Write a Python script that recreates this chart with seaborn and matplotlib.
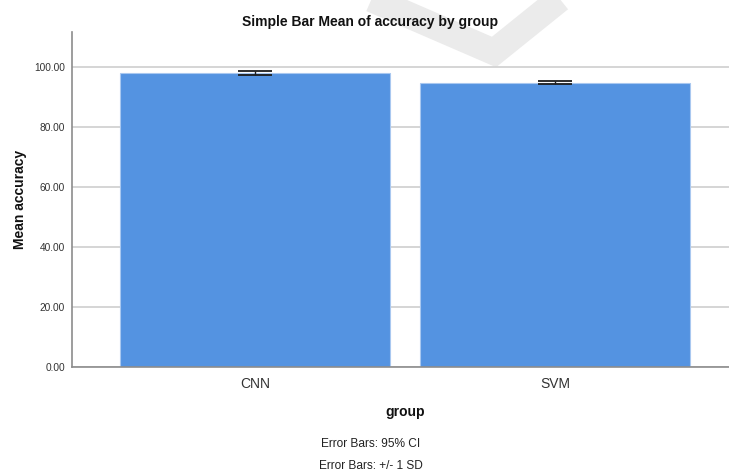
import matplotlib
matplotlib.use("Agg")
import matplotlib.pyplot as plt
from matplotlib.lines import Line2D
from matplotlib.ticker import FuncFormatter
import seaborn as sns
import pandas as pd
from matplotlib import font_manager

# Group means and error-bar half widths
groups = ["CNN", "SVM"]
mean_accuracy = [97.95, 94.65]
error_halfwidth = [0.6, 0.6]
y_ticks = [0, 20, 40, 60, 80, 100]

title = "Simple Bar Mean of accuracy by group"
notes = ["Error Bars: 95% CI", "Error Bars: +/- 1 SD"]

sns.set_theme(style="white")
plt.rcParams["font.family"] = ["Liberation Sans", "DejaVu Sans"]

names = {f.name for f in font_manager.fontManager.ttflist}
narrow = ["Liberation Sans Narrow", "Liberation Sans", "DejaVu Sans"] \
    if "Liberation Sans Narrow" in names else ["Liberation Sans", "DejaVu Sans"]

W, H = 729, 475
bar_color = "#5493E1"

df = pd.DataFrame({"group": groups, "accuracy": mean_accuracy})

fig = plt.figure(figsize=(W / 100, H / 100), dpi=100)
fig.patch.set_facecolor("white")
ax = fig.add_axes([72 / W, (H - 367.3) / H, 666 / W, 335 / H])
ax.patch.set_alpha(0)

# faint check-mark stamp in the background
px = [360, 494, 566]
py = [-6, 52, -6]
fig.add_artist(Line2D([x / W for x in px], [1 - y / H for y in py],
                      transform=fig.transFigure, color="#EBEBEB",
                      linewidth=19, solid_joinstyle="miter",
                      solid_capstyle="butt", zorder=-5))

sns.barplot(data=df, x="group", y="accuracy", color=bar_color, saturation=1,
            width=0.9, errorbar=None, edgecolor="#A9C8F0", linewidth=0.8, ax=ax)
ax.errorbar(x=list(range(len(groups))), y=mean_accuracy, yerr=error_halfwidth,
            fmt="none", ecolor="#1E1E1E", elinewidth=1.0, capsize=12.2,
            capthick=1.3, zorder=5)

ax.set_xlim(-0.61, 1.61)
ax.set_ylim(0, 111.4)
ax.set_yticks(y_ticks)
ax.yaxis.set_major_formatter(FuncFormatter(lambda v, p: f"{v:.2f}"))
ax.yaxis.grid(True, color="#D2D2D2", linewidth=1.3)
ax.set_axisbelow(True)

for s in ["top", "right"]:
    ax.spines[s].set_visible(False)
for s in ["left", "bottom"]:
    ax.spines[s].set_color("#8C8C8C")
    ax.spines[s].set_linewidth(1.2)

ax.tick_params(axis="y", length=0, pad=5, labelsize=7.3, labelcolor="#333333")
ax.tick_params(axis="x", length=0, pad=7, labelsize=10, labelcolor="#333333")

ax.set_ylabel("Mean accuracy", fontsize=10, fontweight="bold", color="#111111")
ax.yaxis.set_label_coords(-0.068, 0.5)
ax.set_xlabel("group", fontsize=10, fontweight="bold", color="#111111")
ax.xaxis.set_label_coords(0.5, -0.112)

fig.text(370 / W, 1 - 26 / H, title, family=narrow, fontsize=10,
         fontweight="bold", ha="center", va="baseline", color="#111111")
fig.text(371 / W, 1 - 447 / H, notes[0], family=narrow, fontsize=8.6,
         ha="center", va="baseline", color="#222222")
fig.text(371 / W, 1 - 469 / H, notes[1], family=narrow, fontsize=8.6,
         ha="center", va="baseline", color="#222222")

fig.savefig("out.png", dpi=100, facecolor="white")
